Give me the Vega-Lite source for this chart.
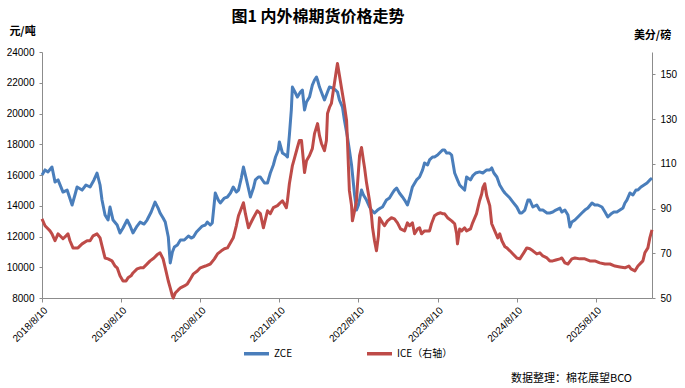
{
  "$schema": "https://vega.github.io/schema/vega-lite/v6.json",
  "width": 610,
  "height": 246,
  "autosize": {"type": "none"},
  "padding": {"left": 42, "top": 52, "right": 33, "bottom": 90},
  "background": "white",
  "title": {"text": "图1 内外棉期货价格走势", "font": "Noto Sans CJK SC", "fontSize": 16, "fontWeight": "bold", "color": "#000000", "anchor": "middle", "frame": "group", "dx": -29, "offset": 0},
  "config": {
    "view": {"stroke": null},
    "axis": {"labelFont": "Liberation Sans", "labelFontSize": 10, "labelColor": "#000000", "domainColor": "#8c8c8c", "tickColor": "#8c8c8c", "grid": false, "tickSize": 3, "labelPadding": 5}
  },
  "datasets": {
    "zce": [
      {"d":"2018-08-10","v":16000},{"d":"2018-08-24","v":16330},{"d":"2018-09-07","v":16200},{"d":"2018-09-25","v":16520},{"d":"2018-10-09","v":15550},{"d":"2018-10-23","v":15680},{"d":"2018-11-15","v":14890},{"d":"2018-12-04","v":15020},{"d":"2018-12-27","v":14050},{"d":"2019-01-09","v":14700},{"d":"2019-01-19","v":15220},{"d":"2019-02-11","v":15020},{"d":"2019-03-01","v":15350},{"d":"2019-03-20","v":15220},{"d":"2019-04-07","v":15680},{"d":"2019-04-21","v":16130},{"d":"2019-05-05","v":15350},{"d":"2019-05-14","v":14370},{"d":"2019-05-28","v":13400},{"d":"2019-06-11","v":13070},{"d":"2019-06-20","v":13920},{"d":"2019-07-04","v":13070},{"d":"2019-07-23","v":12750},{"d":"2019-08-05","v":12230},
      {"d":"2019-08-19","v":12550},{"d":"2019-09-07","v":13070},{"d":"2019-09-21","v":12680},{"d":"2019-10-04","v":12230},{"d":"2019-10-23","v":12680},{"d":"2019-11-06","v":12940},{"d":"2019-11-24","v":12810},{"d":"2019-12-08","v":13070},{"d":"2019-12-27","v":13590},{"d":"2020-01-14","v":14240},{"d":"2020-01-28","v":13850},{"d":"2020-02-06","v":13530},{"d":"2020-02-20","v":13200},{"d":"2020-03-01","v":12940},{"d":"2020-03-15","v":11970},{"d":"2020-03-24","v":10280},{"d":"2020-04-03","v":10990},{"d":"2020-04-12","v":11320},{"d":"2020-04-26","v":11450},{"d":"2020-05-10","v":11770},{"d":"2020-05-28","v":11770},{"d":"2020-06-16","v":12030},{"d":"2020-06-29","v":11900},{"d":"2020-07-09","v":11970},{"d":"2020-07-23","v":12290},{"d":"2020-08-01","v":12420},
      {"d":"2020-08-19","v":12680},{"d":"2020-09-02","v":12750},{"d":"2020-09-11","v":12940},{"d":"2020-09-25","v":12750},{"d":"2020-10-04","v":12880},{"d":"2020-10-18","v":14830},{"d":"2020-11-01","v":14370},{"d":"2020-11-10","v":14180},{"d":"2020-11-29","v":14500},{"d":"2020-12-13","v":14570},{"d":"2020-12-27","v":14830},{"d":"2021-01-09","v":15220},{"d":"2021-01-23","v":14890},{"d":"2021-02-02","v":15020},{"d":"2021-02-15","v":15800},{"d":"2021-02-25","v":16520},{"d":"2021-03-11","v":15680},{"d":"2021-03-29","v":14570},{"d":"2021-04-12","v":15150},{"d":"2021-04-21","v":15680},{"d":"2021-05-05","v":15870},{"d":"2021-05-14","v":15870},{"d":"2021-06-02","v":15480},{"d":"2021-06-16","v":15480},{"d":"2021-06-29","v":16130},{"d":"2021-07-13","v":16650},{"d":"2021-07-23","v":17170},{"d":"2021-08-05","v":17630},
      {"d":"2021-08-10","v":18150},{"d":"2021-08-24","v":17430},{"d":"2021-09-07","v":17300},{"d":"2021-09-16","v":17170},{"d":"2021-09-25","v":18600},{"d":"2021-10-04","v":20230},{"d":"2021-10-09","v":21720},{"d":"2021-10-23","v":21330},{"d":"2021-11-01","v":21070},{"d":"2021-11-15","v":21400},{"d":"2021-11-24","v":21530},{"d":"2021-12-04","v":20230},{"d":"2021-12-13","v":20750},{"d":"2021-12-27","v":21070},{"d":"2022-01-09","v":21850},{"d":"2022-01-19","v":22180},{"d":"2022-01-28","v":22370},{"d":"2022-02-02","v":22180},{"d":"2022-02-11","v":21720},{"d":"2022-02-25","v":21200},{"d":"2022-03-06","v":20880},{"d":"2022-03-20","v":21400},{"d":"2022-03-29","v":21720},{"d":"2022-04-12","v":21660},{"d":"2022-04-26","v":21530},{"d":"2022-05-05","v":21400},{"d":"2022-05-14","v":20880},{"d":"2022-05-28","v":20420},{"d":"2022-06-06","v":19580},{"d":"2022-06-20","v":18470},{"d":"2022-06-29","v":17630},{"d":"2022-07-09","v":16650},{"d":"2022-07-23","v":14700},{"d":"2022-08-01","v":13720},
      {"d":"2022-08-10","v":14050},{"d":"2022-08-24","v":15020},{"d":"2022-09-02","v":14700},{"d":"2022-09-16","v":14370},{"d":"2022-09-30","v":13920},{"d":"2022-10-09","v":13720},{"d":"2022-10-23","v":13530},{"d":"2022-11-06","v":13720},{"d":"2022-11-20","v":13850},{"d":"2022-11-29","v":13920},{"d":"2022-12-17","v":14370},{"d":"2022-12-31","v":14500},{"d":"2023-01-14","v":14830},{"d":"2023-01-23","v":15020},{"d":"2023-02-02","v":15150},{"d":"2023-02-15","v":14830},{"d":"2023-03-01","v":14570},{"d":"2023-03-11","v":14370},{"d":"2023-03-24","v":14050},{"d":"2023-04-03","v":14500},{"d":"2023-04-16","v":15220},{"d":"2023-05-05","v":15680},{"d":"2023-05-19","v":15870},{"d":"2023-06-02","v":16330},{"d":"2023-06-11","v":16780},{"d":"2023-06-25","v":16650},{"d":"2023-07-04","v":16980},{"d":"2023-07-18","v":17170},{"d":"2023-07-27","v":17170},
      {"d":"2023-08-10","v":17300},{"d":"2023-08-19","v":17430},{"d":"2023-09-02","v":17630},{"d":"2023-09-11","v":17630},{"d":"2023-09-21","v":17430},{"d":"2023-10-04","v":17430},{"d":"2023-10-14","v":17300},{"d":"2023-10-28","v":16130},{"d":"2023-11-10","v":15680},{"d":"2023-11-20","v":15350},{"d":"2023-11-29","v":15220},{"d":"2023-12-13","v":15020},{"d":"2023-12-22","v":15870},{"d":"2024-01-09","v":15680},{"d":"2024-01-19","v":15940},{"d":"2024-02-02","v":16130},{"d":"2024-02-20","v":16200},{"d":"2024-03-06","v":16130},{"d":"2024-03-24","v":16330},{"d":"2024-04-07","v":16330},{"d":"2024-04-16","v":16460},{"d":"2024-04-26","v":16130},{"d":"2024-05-10","v":15870},{"d":"2024-05-23","v":15350},{"d":"2024-06-06","v":15020},{"d":"2024-06-16","v":14830},{"d":"2024-06-25","v":14700},{"d":"2024-07-09","v":14500},{"d":"2024-07-23","v":14240},
      {"d":"2024-08-10","v":13920},{"d":"2024-08-24","v":13530},{"d":"2024-09-02","v":13530},{"d":"2024-09-16","v":13720},{"d":"2024-09-30","v":14370},{"d":"2024-10-09","v":14370},{"d":"2024-10-23","v":13920},{"d":"2024-11-10","v":14050},{"d":"2024-11-24","v":13720},{"d":"2024-12-08","v":13720},{"d":"2024-12-27","v":13530},{"d":"2025-01-09","v":13530},{"d":"2025-01-23","v":13590},{"d":"2025-02-06","v":13720},{"d":"2025-02-25","v":13850},{"d":"2025-03-06","v":13590},{"d":"2025-03-20","v":13720},{"d":"2025-04-03","v":13400},{"d":"2025-04-12","v":12620},{"d":"2025-04-21","v":12940},{"d":"2025-05-05","v":13070},{"d":"2025-05-19","v":13270},{"d":"2025-06-06","v":13530},{"d":"2025-06-20","v":13720},{"d":"2025-07-04","v":13850},{"d":"2025-07-23","v":14180},{"d":"2025-08-05","v":14050},
      {"d":"2025-08-19","v":14050},{"d":"2025-09-07","v":13920},{"d":"2025-09-21","v":13590},{"d":"2025-10-04","v":13270},{"d":"2025-10-18","v":13460},{"d":"2025-11-01","v":13590},{"d":"2025-11-15","v":13590},{"d":"2025-11-29","v":13720},{"d":"2025-12-13","v":13850},{"d":"2025-12-22","v":14180},{"d":"2025-12-31","v":14370},{"d":"2026-01-14","v":14830},{"d":"2026-01-28","v":14700},{"d":"2026-02-11","v":15020},{"d":"2026-02-20","v":15020},{"d":"2026-03-06","v":15220},{"d":"2026-03-20","v":15350},{"d":"2026-04-03","v":15480},{"d":"2026-04-16","v":15680},{"d":"2026-04-26","v":15800}
    ],
    "ice": [
      {"d":"2018-08-10","v":85.4},{"d":"2018-08-24","v":82.3},{"d":"2018-09-02","v":81.4},{"d":"2018-09-16","v":80.0},{"d":"2018-09-25","v":78.7},{"d":"2018-10-09","v":75.6},{"d":"2018-10-23","v":78.7},{"d":"2018-11-06","v":77.4},{"d":"2018-11-15","v":76.5},{"d":"2018-11-29","v":77.8},{"d":"2018-12-08","v":78.7},{"d":"2018-12-17","v":75.6},{"d":"2018-12-31","v":72.4},{"d":"2019-01-14","v":72.4},{"d":"2019-01-23","v":72.4},{"d":"2019-02-11","v":74.2},{"d":"2019-03-06","v":75.6},{"d":"2019-03-20","v":75.6},{"d":"2019-04-03","v":77.8},{"d":"2019-04-21","v":78.7},{"d":"2019-05-05","v":76.9},{"d":"2019-05-14","v":73.3},{"d":"2019-05-28","v":67.9},{"d":"2019-06-11","v":67.5},{"d":"2019-06-29","v":66.6},{"d":"2019-07-13","v":64.3},{"d":"2019-07-23","v":63.5},{"d":"2019-08-05","v":59.9},
      {"d":"2019-08-19","v":57.6},{"d":"2019-09-02","v":57.6},{"d":"2019-09-11","v":59.0},{"d":"2019-09-25","v":59.9},{"d":"2019-10-04","v":61.2},{"d":"2019-10-23","v":63.0},{"d":"2019-11-06","v":63.5},{"d":"2019-11-20","v":63.5},{"d":"2019-12-04","v":64.8},{"d":"2019-12-22","v":66.6},{"d":"2020-01-09","v":67.9},{"d":"2020-01-23","v":69.3},{"d":"2020-02-06","v":70.2},{"d":"2020-02-20","v":67.5},{"d":"2020-03-01","v":63.5},{"d":"2020-03-15","v":57.6},{"d":"2020-03-24","v":54.5},{"d":"2020-04-03","v":50.9},{"d":"2020-04-07","v":50.0},{"d":"2020-04-16","v":52.2},{"d":"2020-04-30","v":53.6},{"d":"2020-05-10","v":54.5},{"d":"2020-05-28","v":55.4},{"d":"2020-06-11","v":56.3},{"d":"2020-06-25","v":58.5},{"d":"2020-07-09","v":60.8},{"d":"2020-07-27","v":62.1},
      {"d":"2020-08-10","v":63.5},{"d":"2020-09-02","v":64.3},{"d":"2020-09-25","v":65.2},{"d":"2020-10-14","v":67.5},{"d":"2020-10-28","v":69.7},{"d":"2020-11-15","v":71.1},{"d":"2020-11-29","v":72.0},{"d":"2020-12-13","v":72.4},{"d":"2020-12-27","v":74.7},{"d":"2021-01-09","v":76.9},{"d":"2021-01-23","v":82.3},{"d":"2021-02-02","v":86.8},{"d":"2021-02-11","v":89.0},{"d":"2021-02-25","v":92.6},{"d":"2021-03-06","v":87.7},{"d":"2021-03-20","v":81.4},{"d":"2021-03-29","v":83.2},{"d":"2021-04-12","v":85.9},{"d":"2021-04-30","v":89.0},{"d":"2021-05-14","v":87.7},{"d":"2021-05-28","v":81.4},{"d":"2021-06-16","v":89.0},{"d":"2021-06-29","v":87.7},{"d":"2021-07-13","v":90.4},{"d":"2021-08-01","v":91.3},
      {"d":"2021-08-10","v":92.2},{"d":"2021-08-24","v":93.5},{"d":"2021-09-11","v":90.4},{"d":"2021-09-16","v":93.5},{"d":"2021-09-25","v":101.1},{"d":"2021-10-09","v":109.2},{"d":"2021-10-18","v":112.3},{"d":"2021-11-01","v":117.3},{"d":"2021-11-10","v":120.4},{"d":"2021-11-20","v":120.4},{"d":"2021-12-04","v":106.1},{"d":"2021-12-13","v":111.4},{"d":"2021-12-27","v":113.7},{"d":"2022-01-09","v":116.8},{"d":"2022-01-19","v":123.5},{"d":"2022-02-02","v":128.0},{"d":"2022-02-11","v":122.6},{"d":"2022-02-20","v":119.1},{"d":"2022-03-06","v":115.9},{"d":"2022-03-15","v":120.4},{"d":"2022-03-20","v":132.5},{"d":"2022-03-29","v":135.2},{"d":"2022-04-07","v":137.0},{"d":"2022-04-21","v":146.0},{"d":"2022-04-30","v":151.8},{"d":"2022-05-05","v":154.9},{"d":"2022-05-14","v":149.6},{"d":"2022-05-23","v":144.2},{"d":"2022-06-06","v":136.1},{"d":"2022-06-16","v":129.4},{"d":"2022-06-20","v":120.4},{"d":"2022-06-29","v":98.0},{"d":"2022-07-09","v":91.3},{"d":"2022-07-13","v":84.5},{"d":"2022-07-23","v":89.0},{"d":"2022-08-01","v":93.5},{"d":"2022-08-05","v":100.2},
      {"d":"2022-08-15","v":113.7},{"d":"2022-08-24","v":117.3},{"d":"2022-09-02","v":111.4},{"d":"2022-09-07","v":108.3},{"d":"2022-09-16","v":101.6},{"d":"2022-09-30","v":93.5},{"d":"2022-10-09","v":86.8},{"d":"2022-10-14","v":81.4},{"d":"2022-10-23","v":75.6},{"d":"2022-11-01","v":71.1},{"d":"2022-11-10","v":77.8},{"d":"2022-11-15","v":85.9},{"d":"2022-11-29","v":83.6},{"d":"2022-12-08","v":82.3},{"d":"2022-12-22","v":84.5},{"d":"2023-01-09","v":85.9},{"d":"2023-01-23","v":85.4},{"d":"2023-02-06","v":83.6},{"d":"2023-02-20","v":80.9},{"d":"2023-03-11","v":80.0},{"d":"2023-03-24","v":83.6},{"d":"2023-04-03","v":82.3},{"d":"2023-04-16","v":83.6},{"d":"2023-04-26","v":78.7},{"d":"2023-05-10","v":80.9},{"d":"2023-05-19","v":81.4},{"d":"2023-05-28","v":78.7},{"d":"2023-06-11","v":80.0},{"d":"2023-07-04","v":80.0},{"d":"2023-07-13","v":83.2},{"d":"2023-07-27","v":86.8},
      {"d":"2023-08-10","v":87.7},{"d":"2023-08-24","v":88.1},{"d":"2023-09-02","v":87.7},{"d":"2023-09-11","v":87.7},{"d":"2023-09-25","v":85.9},{"d":"2023-10-14","v":84.5},{"d":"2023-10-28","v":83.2},{"d":"2023-11-06","v":78.7},{"d":"2023-11-10","v":74.2},{"d":"2023-11-20","v":80.9},{"d":"2023-11-29","v":80.0},{"d":"2023-12-13","v":81.4},{"d":"2023-12-22","v":80.0},{"d":"2024-01-09","v":80.9},{"d":"2024-01-19","v":83.6},{"d":"2024-02-06","v":87.7},{"d":"2024-02-20","v":93.5},{"d":"2024-03-01","v":96.6},{"d":"2024-03-06","v":99.3},{"d":"2024-03-15","v":101.1},{"d":"2024-03-24","v":95.7},{"d":"2024-04-07","v":91.3},{"d":"2024-04-16","v":83.2},{"d":"2024-04-30","v":80.0},{"d":"2024-05-14","v":76.9},{"d":"2024-05-23","v":78.7},{"d":"2024-06-02","v":75.6},{"d":"2024-06-16","v":72.9},{"d":"2024-06-25","v":72.4},{"d":"2024-07-09","v":71.1},{"d":"2024-07-23","v":69.7},
      {"d":"2024-08-10","v":67.9},{"d":"2024-08-24","v":67.5},{"d":"2024-09-11","v":70.2},{"d":"2024-09-25","v":72.4},{"d":"2024-10-09","v":72.0},{"d":"2024-10-23","v":71.1},{"d":"2024-11-10","v":69.7},{"d":"2024-11-24","v":70.2},{"d":"2024-12-08","v":68.8},{"d":"2024-12-27","v":67.9},{"d":"2025-01-09","v":66.6},{"d":"2025-01-23","v":66.6},{"d":"2025-02-06","v":67.0},{"d":"2025-02-25","v":67.5},{"d":"2025-03-06","v":67.9},{"d":"2025-03-20","v":65.7},{"d":"2025-04-03","v":65.2},{"d":"2025-04-21","v":67.5},{"d":"2025-05-05","v":67.9},{"d":"2025-05-28","v":67.5},{"d":"2025-06-20","v":67.5},{"d":"2025-07-13","v":66.6},{"d":"2025-08-05","v":66.6},
      {"d":"2025-08-28","v":65.7},{"d":"2025-09-21","v":65.2},{"d":"2025-10-14","v":65.2},{"d":"2025-11-06","v":64.3},{"d":"2025-11-29","v":63.9},{"d":"2025-12-22","v":63.5},{"d":"2026-01-09","v":64.3},{"d":"2026-01-19","v":63.0},{"d":"2026-02-06","v":62.1},{"d":"2026-02-20","v":64.3},{"d":"2026-03-06","v":65.7},{"d":"2026-03-15","v":66.6},{"d":"2026-03-24","v":70.2},{"d":"2026-04-07","v":72.4},{"d":"2026-04-16","v":76.9},{"d":"2026-04-26","v":80.5}
    ]
  },
  "encoding": {
    "x": {
      "field": "d", "type": "temporal",
      "scale": {"type": "utc", "domain": [{"year": 2018, "month": 8, "date": 10, "utc": true}, {"year": 2026, "month": 4, "date": 26, "utc": true}]},
      "axis": {
        "values": [
          {"year": 2018, "month": 8, "date": 10, "utc": true}, {"year": 2019, "month": 8, "date": 10, "utc": true},
          {"year": 2020, "month": 8, "date": 10, "utc": true}, {"year": 2021, "month": 8, "date": 10, "utc": true},
          {"year": 2022, "month": 8, "date": 10, "utc": true}, {"year": 2023, "month": 8, "date": 10, "utc": true},
          {"year": 2024, "month": 8, "date": 10, "utc": true}, {"year": 2025, "month": 8, "date": 10, "utc": true}
        ],
        "labelExpr": "utcFormat(datum.value, '%Y/%-m/%-d')", "labelAngle": -45, "tickSize": 4, "labelPadding": 3,
        "title": "数据整理：棉花展望BCO", "titleFont": "Noto Sans CJK SC", "titleFontSize": 11, "titleFontWeight": "normal", "titleColor": "#000000",
        "titleX": 529, "titleY": 80, "titleAlign": "center", "titleBaseline": "middle", "titleAngle": 0
      }
    }
  },
  "layer": [
    {
      "data": {"name": "zce"},
      "mark": {"type": "line", "strokeWidth": 3, "strokeJoin": "round"},
      "encoding": {
        "y": {
          "field": "v", "type": "quantitative",
          "scale": {"domain": [8000, 24000], "nice": false, "zero": false},
          "axis": {"orient": "left", "values": [8000, 10000, 12000, 14000, 16000, 18000, 20000, 22000, 24000], "format": "d",
            "title": "元/吨", "titleFont": "Noto Sans CJK SC", "titleFontSize": 11, "titleFontWeight": "bold", "titleColor": "#000000",
            "titleAngle": 0, "titleX": -20, "titleY": -21, "titleAlign": "center", "titleBaseline": "middle"}
        },
        "color": {
          "datum": "ZCE", "type": "nominal",
          "scale": {"domain": ["ZCE", "ICE（右轴）"], "range": ["#4a7ebb", "#be4b48"]},
          "legend": {"orient": "none", "legendX": 200, "legendY": 287, "direction": "horizontal", "title": null,
            "symbolType": "stroke", "symbolSize": 625, "symbolStrokeWidth": 3.5, "labelFont": "Noto Sans CJK SC", "labelFontSize": 10,
            "labelColor": "#000000", "labelOffset": 3, "columnPadding": 67, "padding": 0}
        }
      }
    },
    {
      "data": {"name": "ice"},
      "mark": {"type": "line", "strokeWidth": 3, "strokeJoin": "round"},
      "encoding": {
        "y": {
          "field": "v", "type": "quantitative",
          "scale": {"domain": [50, 160], "nice": false, "zero": false},
          "axis": {"orient": "right", "values": [50, 70, 90, 110, 130, 150],
            "title": "美分/磅", "titleFont": "Noto Sans CJK SC", "titleFontSize": 11, "titleFontWeight": "bold", "titleColor": "#000000",
            "titleAngle": 0, "titleX": 0, "titleY": -17, "titleAlign": "center", "titleBaseline": "middle"}
        },
        "color": {
          "datum": "ICE（右轴）", "type": "nominal",
          "scale": {"domain": ["ZCE", "ICE（右轴）"], "range": ["#4a7ebb", "#be4b48"]},
          "legend": {"orient": "none", "legendX": 200, "legendY": 287, "direction": "horizontal", "title": null,
            "symbolType": "stroke", "symbolSize": 625, "symbolStrokeWidth": 3.5, "labelFont": "Noto Sans CJK SC", "labelFontSize": 10,
            "labelColor": "#000000", "labelOffset": 3, "columnPadding": 67, "padding": 0}
        }
      }
    }
  ],
  "resolve": {"scale": {"y": "independent"}}
}
